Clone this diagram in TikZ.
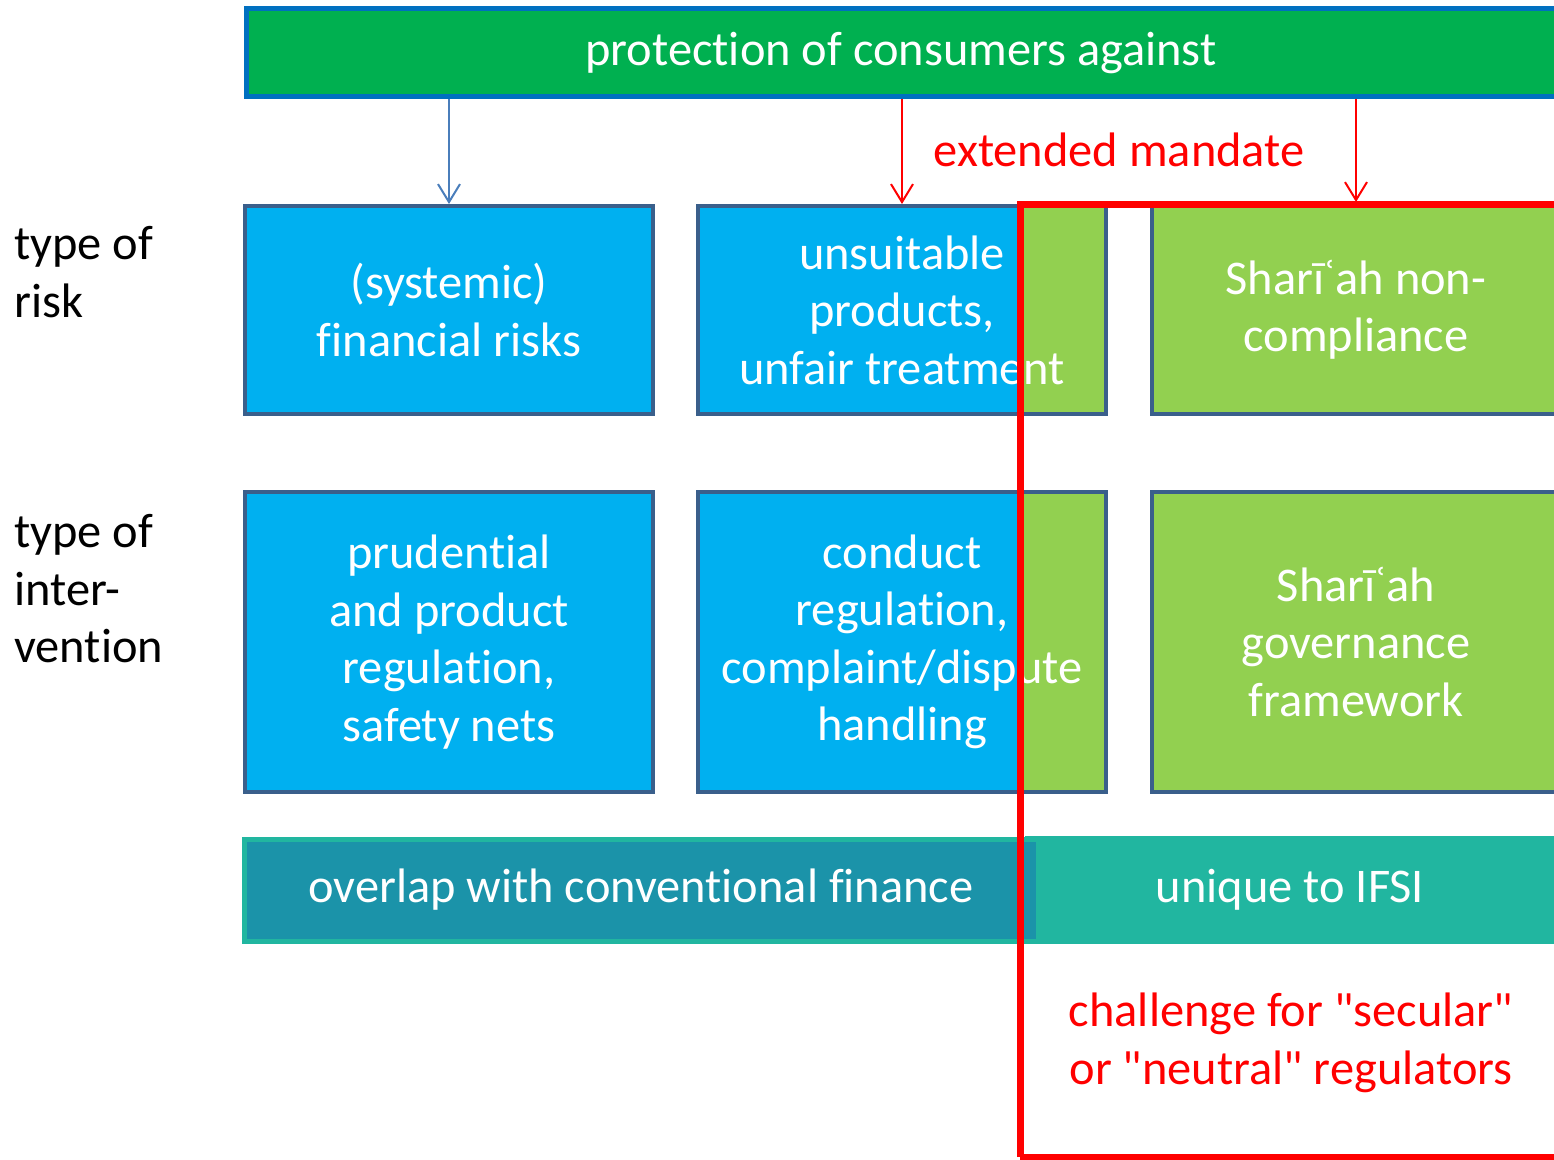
\documentclass[tikz,border=0pt]{standalone}
\usepackage{fontspec}
\setmainfont{Carlito}[Ligatures={NoCommon}]
\usetikzlibrary{arrows.meta}
\definecolor{topgreen}{HTML}{00B050}
\definecolor{topborder}{HTML}{0070C0}
\definecolor{boxblue}{HTML}{00B0F0}
\definecolor{boxborder}{HTML}{3A5F8B}
\definecolor{lgreen}{HTML}{92D050}
\definecolor{darkteal}{HTML}{1B93A9}
\definecolor{teal}{HTML}{21B6A0}
\definecolor{arrblue}{HTML}{4A7EBB}
\definecolor{myred}{HTML}{FF0000}
\begin{document}
\begin{tikzpicture}[x=0.5pt,y=-0.5pt,
  bigfont/.style={font=\fontsize{24.2}{28.75}\selectfont},
  txt/.style={bigfont, text=white, align=center, inner sep=0pt},
  box/.style={txt, draw=boxborder, line width=2pt, fill=boxblue, minimum width=204pt},
  gbox/.style={box, fill=lgreen},
  rowh/.style={minimum height=104pt},
  rowi/.style={minimum height=149.5pt},
  greenpart/.style={path picture={\fill[lgreen] ([xshift=-43.5pt]path picture bounding box.north east) rectangle (path picture bounding box.south east);}},
  lab/.style={bigfont, text=black, align=left, inner sep=0pt},
  arr/.style={-{Straight Barb[length=9pt,width=11pt]}, line width=1pt},
]
\useasboundingbox (0,0) rectangle (1554,1160);
\clip (0,0) rectangle (1554,1160);

% top box
\node[txt, draw=topborder, fill=topgreen, line width=2.5pt, minimum width=655pt, minimum height=44pt] (top) at (901,53) {protection of consumers against};

% row labels
\node[lab, anchor=west] (lrisk) at (14,272) {type of\\risk};
\node[lab, anchor=west] (linter) at (14,589) {type of\\inter-\\vention};

% row 1
\node[box, rowh] (r1a) at (449,310) {(systemic)\\financial risks};
\node[box, rowh, greenpart] (r1b) at (902,310) {unsuitable\\products,\\unfair treatment};
\node[gbox, rowh] (r1c) at (1356,310) {Sharīʿah non-\\compliance};

% row 2
\node[box, rowi] (r2a) at (449,642) {prudential\\and product\\regulation,\\safety nets};
\node[box, rowi, greenpart] (r2b) at (902,642) {conduct\\regulation,\\complaint/dispute\\handling};
\node[gbox, rowi] (r2c) at (1356,642) {Sharīʿah\\governance\\framework};

% bottom bar
\node[txt, fill=teal, minimum width=265pt, minimum height=54pt] (br) at (1290,890) {unique to IFSI};
\node[txt, fill=darkteal, draw=teal, line width=2.5pt, minimum width=397pt, minimum height=51pt] (bl) at (641,890) {overlap with conventional finance};

% arrows
\draw[arr, arrblue] (top.south -| r1a.north) -- (r1a.north);
\draw[arr, myred] (top.south -| r1b.north) -- (r1b.north);
\draw[arr, myred] (top.south -| r1c.north) -- ([yshift=1pt]r1c.north);

\node[bigfont, text=myred, inner sep=0pt] (ext) at (1119,150) {extended mandate};

% red frame
\draw[myred, line width=3.5pt] (1020,1157) -- (1020,205) -- (1600,205);
\draw[myred, line width=3.5pt] (1020,1157) -- (1600,1157);

\node[bigfont, text=myred, align=center, inner sep=0pt] (chal) at (1291,1043) {challenge for \textquotedbl secular\textquotedbl\\or \textquotedbl neutral\textquotedbl{} regulators};
\end{tikzpicture}
\end{document}
